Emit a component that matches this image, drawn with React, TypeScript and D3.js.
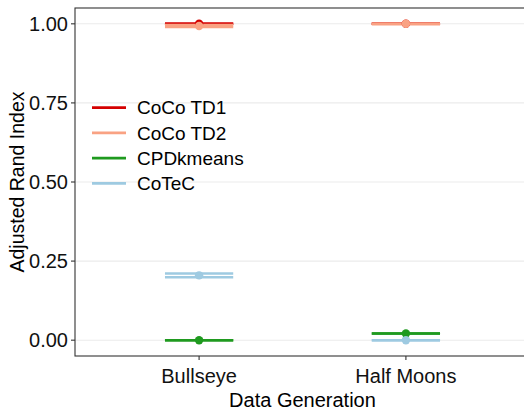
import React from "react";
import * as d3 from "d3";

const categories = ["Bullseye", "Half Moons"];
const seriesNames = ["CoCo TD1", "CoCo TD2", "CPDkmeans", "CoTeC"];
const seriesColors = ["#d40000", "#f9a283", "#1f9a1f", "#9ecae1"];
// mean, lower, upper per category (Bullseye, Half Moons)
const meanValues = [
  [1.0, 1.0],
  [0.993, 1.0],
  [0.0, 0.021],
  [0.205, 0.0],
];
const lowValues = [
  [1.0, 1.0],
  [0.99, 0.999],
  [0.0, 0.021],
  [0.199, 0.0],
];
const highValues = [
  [1.0, 1.0],
  [0.996, 1.0],
  [0.0, 0.021],
  [0.211, 0.0],
];
const yTicks = [0, 0.25, 0.5, 0.75, 1.0];

const W = 524;
const H = 411;
const M = { left: 75, top: 8, right: 530, bottom: 356 };
const FONT = "'Liberation Sans', Arial, Helvetica, sans-serif";

export default function App() {
  const x = d3.scalePoint<string>().domain(categories).range([M.left, M.right]).padding(0.6);
  const y = d3.scaleLinear().domain([-0.05, 1.05]).range([M.bottom, M.top]);
  const step = x.step();
  const half = step * 0.165;

  return (
    <svg
      width={W}
      height={H}
      style={{ position: "absolute", left: 0, top: 0, background: "#fff" }}
      fontFamily={FONT}
    >
      <rect x={0} y={0} width={W} height={H} fill="#fff" />
      {/* grid */}
      {yTicks.map((t) => (
        <line key={"g" + t} x1={M.left} x2={M.right} y1={y(t)} y2={y(t)} stroke="#ebebeb" strokeWidth={1.1} />
      ))}
      {/* errorbars */}
      {seriesNames.map((s, si) => (
        <g key={s}>
          {categories.map((c, ci) => {
            const cx = x(c) as number;
            const lo = y(lowValues[si][ci]);
            const hi = y(highValues[si][ci]);
            const col = seriesColors[si];
            return (
              <g key={c}>
                <line x1={cx - half} x2={cx + half} y1={lo} y2={lo} stroke={col} strokeWidth={2.6} />
                <line x1={cx - half} x2={cx + half} y1={hi} y2={hi} stroke={col} strokeWidth={2.6} />
                <line x1={cx} x2={cx} y1={lo} y2={hi} stroke={col} strokeWidth={2.6} />
              </g>
            );
          })}
        </g>
      ))}
      {/* points */}
      {seriesNames.map((s, si) => (
        <g key={"p" + s}>
          {categories.map((c, ci) => (
            <circle key={c} cx={x(c) as number} cy={y(meanValues[si][ci])} r={4.2} fill={seriesColors[si]} />
          ))}
        </g>
      ))}
      {/* panel border */}
      <rect
        x={M.left}
        y={M.top}
        width={M.right - M.left}
        height={M.bottom - M.top}
        fill="none"
        stroke="#333"
        strokeWidth={1.1}
      />
      {/* y axis */}
      {yTicks.map((t) => (
        <g key={"y" + t}>
          <line x1={M.left - 4} x2={M.left} y1={y(t)} y2={y(t)} stroke="#333" strokeWidth={1.1} />
          <text x={M.left - 7} y={y(t)} dy="0.35em" textAnchor="end" fontSize={20} fill="#111">
            {d3.format(".2f")(t)}
          </text>
        </g>
      ))}
      {/* x axis */}
      {categories.map((c) => (
        <g key={"x" + c}>
          <line x1={x(c) as number} x2={x(c) as number} y1={M.bottom} y2={M.bottom + 4} stroke="#333" strokeWidth={1.1} />
          <text x={x(c) as number} y={383} textAnchor="middle" fontSize={20} fill="#111">
            {c}
          </text>
        </g>
      ))}
      <text x={(M.left + M.right) / 2} y={406.5} textAnchor="middle" fontSize={20} fill="#000">
        Data Generation
      </text>
      <text
        transform={`translate(24,${(M.top + M.bottom) / 2}) rotate(-90)`}
        textAnchor="middle"
        fontSize={19.5}
        fill="#000"
      >
        Adjusted Rand Index
      </text>
      {/* legend */}
      {seriesNames.map((s, i) => {
        const cy = 107.7 + i * 25.2;
        return (
          <g key={"l" + s}>
            <line x1={92} x2={126} y1={cy} y2={cy} stroke={seriesColors[i]} strokeWidth={2.7} />
            <text x={137} y={cy} dy="0.35em" fontSize={19} fill="#000">
              {s}
            </text>
          </g>
        );
      })}
    </svg>
  );
}
